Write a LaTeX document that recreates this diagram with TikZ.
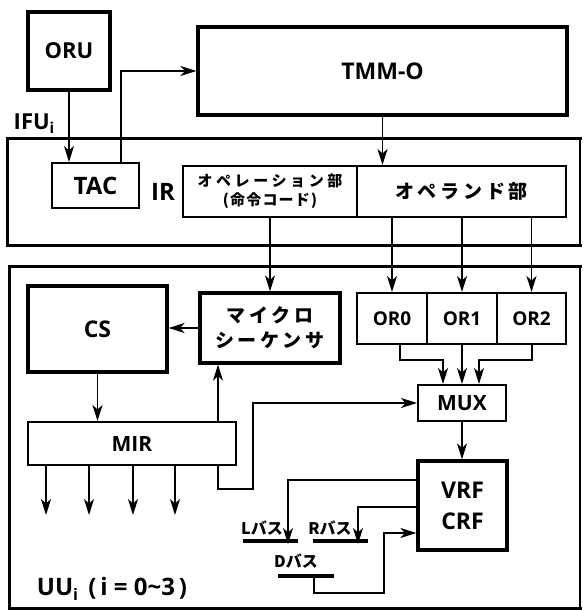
\documentclass[tikz,border=0pt]{standalone}
\usepackage{fontspec}
\setmainfont{Open Sans}
\newfontfamily\jp{Noto Sans CJK JP}
\newfontfamily\jpsp{Noto Sans CJK JP}[LetterSpace=20]
\newfontfamily\jpspa{Noto Sans CJK JP}[LetterSpace=24]
\newfontfamily\jpspb{Noto Sans CJK JP}[LetterSpace=8]
\usetikzlibrary{arrows.meta}
\newcommand\fs[1]{\fontsize{#1}{#1}\selectfont\bfseries}
\begin{document}
\begin{tikzpicture}[x=1pt,y=-1pt,
  box/.style={draw,line width=2pt,rectangle,inner sep=0pt},
  tbox/.style={box,line width=3.2pt},
  arr/.style={line width=1.9pt,-{Stealth[length=16pt,width=10pt,inset=4.5pt]}},
  bus/.style={line width=3.2pt},
  lab/.style={inner sep=0pt}]
\useasboundingbox (0,0) rectangle (582,610);
% outer containers
\node[rectangle,inner sep=0pt,minimum width=572,minimum height=106] (IFU) at (294,192) {};
\node[rectangle,inner sep=0pt,minimum width=570,minimum height=341] (UU) at (295,437.5) {};
\draw[line width=3.2pt,line cap=rect] (IFU.north east) -- (IFU.north west) -- (IFU.south west) -- (IFU.south east);
\draw[line width=2pt] (IFU.north east) -- (IFU.south east);
\draw[line width=3.2pt,line cap=rect] (UU.north east) -- (UU.north west) -- (UU.south west) -- (UU.south east);
\draw[line width=2pt] (UU.north east) -- (UU.south east);
% top
\node[tbox,minimum width=82,minimum height=78,font=\fs{22}] (ORU) at (69,51) {ORU};
\node[tbox,minimum width=369,minimum height=88,font=\fs{23}] (TMM) at (382.5,71) {TMM-O};
\node[box,minimum width=87,minimum height=45,font=\fs{24}] (TAC) at (95.5,185.5) {TAC};
\node[box,minimum width=174,minimum height=51,align=center,font=\fontsize{15}{19}\selectfont\bfseries] (OP) at (270,191.5) {{\jpspa オペレーション部}\\{\jpspb (命令コード)}};
\node[box,minimum width=209,minimum height=51,font=\fontsize{19}{20}\selectfont\jpsp\bfseries] (OPD) at (461.5,191.5) {オペランド部};
\node[lab,font=\fs{22}] (IFUl) at (34,124) {IFU\raisebox{-4pt}{\fs{15}i}};
\node[lab,font=\fs{24}] (IRl) at (163,192) {IR};
% UU contents
\node[tbox,minimum width=140,minimum height=70,align=center,font=\fontsize{19}{25}\selectfont\jpsp\bfseries] (MS) at (270,328) {マイクロ\\シーケンサ};
\node[tbox,minimum width=139,minimum height=86,font=\fs{23}] (CS) at (97.5,329) {CS};
\node[box,minimum width=208,minimum height=43,font=\fs{21}] (MIR) at (132,443.5) {MIR};
\node[box,minimum width=70,minimum height=51,font=\fs{19}] (OR0) at (392,318.5) {OR0};
\node[box,minimum width=70,minimum height=51,font=\fs{19}] (OR1) at (462,318.5) {OR1};
\node[box,minimum width=69,minimum height=51,font=\fs{19}] (OR2) at (531.5,318.5) {OR2};
\node[box,minimum width=88,minimum height=36,font=\fs{21}] (MUX) at (462,403) {MUX};
\node[tbox,minimum width=89,minimum height=89,align=center,font=\fontsize{23}{31}\selectfont\bfseries] (VRF) at (462.5,505.5) {VRF\\CRF};
\node[lab,font=\fs{24}] (UUl) at (112,589) {UU\raisebox{-5pt}{\fs{16}i}\, (\,i = 0\textasciitilde3\,)};
% buses
\coordinate (Lb1) at (243,541); \coordinate (Lb2) at (298,541);
\coordinate (Rb1) at (313,541); \coordinate (Rb2) at (368,541);
\coordinate (Db1) at (278,576); \coordinate (Db2) at (334,576);
\draw[bus] (Lb1) -- (Lb2);
\draw[bus] (Rb1) -- (Rb2);
\draw[bus] (Db1) -- (Db2);
\node[lab,font=\fontsize{16}{16}\selectfont\jp\bfseries] (Ll) at (262,528) {Lバス};
\node[lab,font=\fontsize{16}{16}\selectfont\jp\bfseries] (Rl) at (330,528) {Rバス};
\node[lab,font=\fontsize{16}{16}\selectfont\jp\bfseries] (Dl) at (296,561) {Dバス};
% connectors
\draw[arr] (ORU.south) -- (ORU.south |- TAC.north);
\draw[arr] (TAC.north -| 121,0) |- (TMM.west);
\draw[arr] (TMM.south) -- (TMM.south |- OPD.north);
\draw[arr] (OP.south) -- (MS.north);
\draw[arr] (OR0.north |- OPD.south) -- (OR0.north);
\draw[arr] (OR1.north |- OPD.south) -- (OR1.north);
\draw[arr] (OR2.north |- OPD.south) -- (OR2.north);
\draw[arr] ([xshift=8]OR0.south) |- (443,360) -- ([xshift=-19]MUX.north);
\draw[arr] (OR1.south) -- (MUX.north);
\draw[arr] ([xshift=0.5]OR2.south) |- (479,360) -- ([xshift=17]MUX.north);
\draw[arr] (MUX.south) -- (MUX.south |- VRF.north);
\draw[arr] (MS.west) -- (CS.east |- MS.west);
\draw[arr] (CS.south) -- (CS.south |- MIR.north);
\draw[arr] (MIR.north -| 218,0) -- (MS.south -| 218,0);
\foreach \i/\x in {1/46,2/89,3/133,4/175}{
  \coordinate (o\i) at (\x,515);
  \draw[arr] (MIR.south -| \x,0) -- (o\i);
}
\draw[arr] (MIR.south -| 218,0) -- (218,489) -- (253,489) |- (MUX.west);
\draw[arr] (VRF.west |- 0,480) -| ([yshift=-3]Lb2 -| 288,0);
\draw[arr] (VRF.west |- 0,507) -| ([yshift=-3]Rb2 -| 358,0);
\draw[arr] (Db1 -| 314,0) -- (314,593) -| (384,533) -- (VRF.west |- 0,533);
\end{tikzpicture}
\end{document}
